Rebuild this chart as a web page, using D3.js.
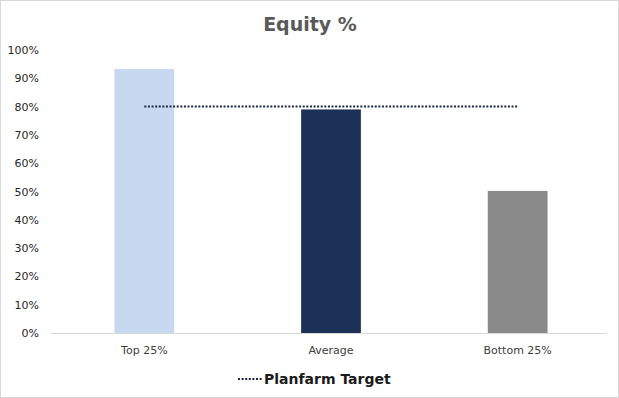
<!DOCTYPE html>
<html>
<head>
<meta charset="utf-8">
<script src="https://cdn.jsdelivr.net/npm/d3@7"></script>
<style>
  body { margin: 0; background: #fff; }
  #chart { width: 619px; height: 398px; }
  text { font-family: "DejaVu Sans", sans-serif; }
</style>
</head>
<body>
<div id="chart"></div>
<script>
// data
let categories = ["Top 25%", "Average", "Bottom 25%"];
let equityValues = [0.933, 0.79, 0.502];
let targetValue = 0.80;
let yTicks = [0, 0.1, 0.2, 0.3, 0.4, 0.5, 0.6, 0.7, 0.8, 0.9, 1.0];
let barColors = ["#c6d9f1", "#1b3158", "#898989"];

let W = 619, H = 398;
let margin = {top: 50, right: 8, bottom: 65, left: 51};

let svg = d3.select("#chart").append("svg")
    .attr("width", W)
    .attr("height", H);

// outer border like the excel chart area
svg.append("rect")
    .attr("x", 0.5).attr("y", 0.5)
    .attr("width", W - 1).attr("height", H - 1)
    .attr("fill", "#fff")
    .attr("stroke", "#d9d9d9");

let x = d3.scaleBand()
    .domain(categories)
    .range([margin.left, W - margin.right])
    .paddingInner(0.68)
    .paddingOuter(0.34);

let y = d3.scaleLinear()
    .domain([0, 1])
    .range([H - margin.bottom, margin.top]);

// title
svg.append("text")
    .attr("x", 310)
    .attr("y", 31)
    .attr("text-anchor", "middle")
    .attr("font-size", 19)
    .attr("font-weight", "bold")
    .attr("fill", "#595959")
    .text("Equity %");

// y axis labels (no axis line)
let yAxis = d3.axisLeft(y)
    .tickValues(yTicks)
    .tickFormat(d3.format(".0%"))
    .tickSize(0)
    .tickPadding(0);

let yg = svg.append("g")
    .attr("transform", `translate(${margin.left - 12},0)`)
    .call(yAxis);
yg.select(".domain").remove();
yg.selectAll("text")
    .attr("font-size", 11)
    .attr("fill", "#262626")
    .attr("font-family", "DejaVu Sans, sans-serif");

// bars
svg.selectAll(".bar")
    .data(equityValues)
    .enter()
    .append("rect")
    .attr("class", "bar")
    .attr("x", (d, i) => x(categories[i]))
    .attr("y", d => y(d))
    .attr("width", x.bandwidth())
    .attr("height", d => y(0) - y(d))
    .attr("fill", (d, i) => barColors[i]);

// x axis baseline
svg.append("line")
    .attr("x1", margin.left)
    .attr("x2", W - margin.right - 4)
    .attr("y1", y(0) + 0.5)
    .attr("y2", y(0) + 0.5)
    .attr("stroke", "#d9d9d9")
    .attr("stroke-width", 1);

// category labels
let xAxis = d3.axisBottom(x).tickSize(0).tickPadding(13);
let xg = svg.append("g")
    .attr("transform", `translate(0,${y(0)})`)
    .call(xAxis);
xg.select(".domain").remove();
xg.selectAll("text")
    .attr("font-size", 11)
    .attr("fill", "#404040")
    .attr("font-family", "DejaVu Sans, sans-serif");

// target line, from first bar centre to last bar centre
let lineX1 = x(categories[0]) + x.bandwidth() / 2;
let lineX2 = x(categories[categories.length - 1]) + x.bandwidth() / 2;
svg.append("line")
    .attr("x1", lineX1)
    .attr("x2", lineX2)
    .attr("y1", y(targetValue))
    .attr("y2", y(targetValue))
    .attr("stroke", "#1a2740")
    .attr("stroke-width", 2)
    .attr("stroke-dasharray", "2,1.6");

// legend
let legend = svg.append("g").attr("transform", "translate(0,379)");
legend.append("line")
    .attr("x1", 238).attr("x2", 262)
    .attr("y1", 0).attr("y2", 0)
    .attr("stroke", "#1a2740")
    .attr("stroke-width", 2)
    .attr("stroke-dasharray", "2,1.6");
legend.append("text")
    .attr("x", 264)
    .attr("y", 5)
    .attr("font-size", 14)
    .attr("font-weight", "bold")
    .attr("fill", "#1a1a1a")
    .text("Planfarm Target");
</script>
</body>
</html>
